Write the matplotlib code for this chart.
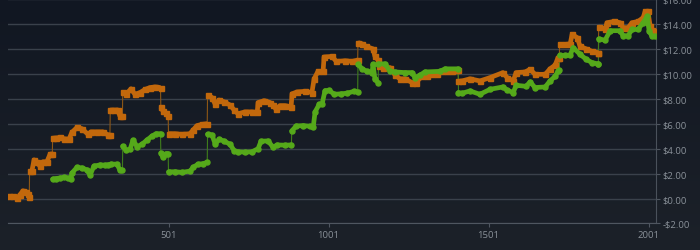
import numpy as np
import matplotlib.pyplot as plt

# values (x = run index, y = dollars)
orange_x = [3, 15, 28, 37, 46, 56, 62, 66, 67, 74, 81, 90, 99, 109, 121, 131, 138,
            139, 149, 162, 174, 190, 199, 215, 231, 249, 259, 278, 296, 312, 318,
            319, 331, 343, 349, 357, 358, 368, 384, 396, 412, 428, 443, 459, 476,
            477, 484, 493, 500, 501, 521, 543, 568, 578, 590, 606, 622, 623, 637,
            647, 659, 675, 693, 706, 718, 740, 762, 778, 781, 800, 818, 828, 837,
            849, 865, 884, 887, 903, 928, 949, 956, 968, 984, 987, 1012, 1025, 1053,
            1075, 1092, 1093, 1106, 1118, 1140, 1146, 1156, 1159, 1171, 1193, 1209,
            1224, 1240, 1262, 1274, 1293, 1309, 1324, 1340, 1356, 1371, 1387, 1399,
            1406, 1407, 1418, 1443, 1474, 1506, 1546, 1559, 1578, 1587, 1615, 1631,
            1646, 1678, 1693, 1709, 1718, 1722, 1723, 1740, 1756, 1762, 1778, 1787,
            1806, 1824, 1843, 1844, 1845, 1865, 1871, 1893, 1912, 1921, 1937, 1949,
            1968, 1984, 1990, 1999, 2006, 2012, 2021]
orange_y = [0.18, 0.18, 0.05, 0.3, 0.62, 0.55, 0.35, 0.1, 2.17, 2.2, 3.1, 2.95, 2.6,
            2.95, 2.95, 3.56, 3.56, 4.84, 4.85, 4.9, 4.8, 4.75, 5.3, 5.7, 5.6, 5.16,
            5.35, 5.35, 5.35, 5.1, 5.1, 7.1, 7.1, 7.1, 6.62, 6.62, 8.55, 8.36, 8.8,
            8.36, 8.5, 8.75, 8.9, 8.95, 8.9, 7.35, 7.0, 6.85, 6.6, 5.2, 5.2, 5.15,
            5.2, 5.5, 5.85, 5.95, 6.0, 8.3, 8.1, 7.56, 7.9, 7.75, 7.5, 7.1, 6.8,
            6.95, 6.95, 6.9, 7.7, 7.85, 7.7, 7.5, 7.15, 7.45, 7.45, 7.35, 8.4, 8.55,
            8.6, 8.5, 9.6, 10.2, 10.2, 11.35, 11.4, 11.0, 11.05, 11.0, 11.1, 12.5,
            12.4, 12.2, 12.0, 11.4, 11.1, 10.6, 10.5, 10.5, 9.9, 9.6, 9.6, 9.3, 9.3,
            9.8, 9.85, 10.0, 10.0, 10.2, 10.2, 10.2, 10.3, 10.3, 9.4, 9.43, 9.6, 9.43,
            9.7, 10.1, 9.7, 9.43, 10.1, 10.15, 10.36, 9.96, 9.96, 10.4, 10.7, 11.3,
            11.3, 12.36, 12.36, 12.4, 13.16, 12.9, 12.2, 12.0, 11.8, 11.7, 11.7,
            13.75, 13.6, 14.1, 14.2, 14.1, 13.7, 13.7, 14.1, 14.2, 14.5, 15.0, 15.0,
            13.8, 13.5, 13.4]

green_x = [139, 149, 162, 174, 187, 196, 199, 215, 231, 246, 256, 268, 287, 303, 312,
           321, 340, 349, 357, 358, 368, 381, 390, 403, 418, 434, 449, 462, 476, 477,
           484, 493, 500, 501, 521, 543, 568, 578, 593, 609, 622, 623, 637, 647, 659,
           675, 693, 706, 718, 740, 762, 781, 790, 812, 828, 840, 865, 885, 886, 900,
           922, 943, 953, 959, 972, 981, 990, 1003, 1019, 1041, 1059, 1081, 1092,
           1093, 1106, 1121, 1137, 1140, 1146, 1156, 1157, 1178, 1193, 1209, 1240,
           1262, 1271, 1287, 1302, 1349, 1365, 1406, 1407, 1418, 1443, 1474, 1506,
           1546, 1559, 1578, 1587, 1618, 1631, 1646, 1678, 1693, 1709, 1718, 1722,
           1723, 1740, 1756, 1765, 1787, 1806, 1824, 1843, 1844, 1845, 1865, 1881,
           1912, 1921, 1937, 1949, 1968, 1984, 1996, 2003, 2012, 2021]
green_y = [1.56, 1.6, 1.65, 1.7, 1.65, 1.55, 2.04, 2.5, 2.45, 2.3, 1.88, 2.6, 2.7,
           2.68, 2.7, 2.76, 2.76, 2.3, 2.28, 4.2, 3.88, 3.95, 4.68, 4.17, 4.35, 4.7,
           5.0, 5.2, 5.2, 3.64, 3.3, 3.6, 3.6, 2.14, 2.15, 2.1, 2.2, 2.5, 2.75, 2.8,
           2.9, 5.16, 5.1, 4.36, 4.76, 4.6, 4.36, 3.85, 3.75, 3.72, 3.75, 4.0, 4.6,
           4.62, 4.1, 4.3, 4.28, 4.3, 5.42, 5.82, 5.85, 5.8, 5.7, 6.95, 7.56, 7.6,
           8.65, 8.67, 8.36, 8.4, 8.45, 8.6, 8.55, 10.76, 10.4, 10.2, 10.1, 10.76,
           9.56, 9.3, 10.8, 10.8, 10.2, 10.15, 10.1, 10.1, 9.7, 9.9, 10.15, 10.2,
           10.4, 10.4, 8.5, 8.44, 8.63, 8.36, 8.76, 8.95, 8.7, 8.5, 9.08, 9.0, 9.35,
           8.9, 8.95, 9.43, 9.8, 10.2, 10.3, 11.48, 11.48, 11.5, 12.1, 11.56, 11.16,
           10.9, 10.8, 10.8, 12.8, 12.7, 13.46, 13.46, 13.06, 13.06, 13.56, 13.56,
           14.1, 14.6, 13.4, 13.0, 13.0]

y_ticks = [-2, 0, 2, 4, 6, 8, 10, 12, 14, 16]
x_ticks = [501, 1001, 1501, 2001]

plt.rcParams['font.family'] = ['Open Sans', 'DejaVu Sans']

fig = plt.figure(figsize=(7, 2.51), dpi=100)

# dark gradient background
bg = fig.add_axes([0, 0, 1, 1])
grad = np.linspace(0, 1, 256).reshape(-1, 1)
bg.imshow(grad, aspect='auto', extent=[0, 1, 0, 1],
          cmap=plt.matplotlib.colors.LinearSegmentedColormap.from_list('bg', ['#1c2129', '#111722']),
          origin='lower')
bg.axis('off')

ax = fig.add_axes([0.0121, 0.1056, 0.925, 0.8944])
ax.patch.set_alpha(0)


def draw(xs, ys, color, jump_color, marker, cap):
    xs = np.array(xs)
    ys = np.array(ys)
    # a jump is two neighbouring runs with very different values
    breaks = np.where(np.diff(xs) <= 1)[0] + 1
    for seg in np.split(np.arange(len(xs)), breaks):
        ax.plot(xs[seg], ys[seg], color=color, lw=3.4, solid_capstyle=cap,
                solid_joinstyle='round', marker=marker, ms=3.6, zorder=3)
    for b in breaks:
        ax.plot(xs[b - 1:b + 1], ys[b - 1:b + 1], color=jump_color, lw=0.8, zorder=2)


draw(orange_x, orange_y, '#c2680c', '#8d5716', 's', 'butt')
draw(green_x, green_y, '#55a91a', '#3f7d1c', 'o', 'round')

ax.set_xlim(1, 2024)
ax.set_ylim(-2, 16)
ax.set_yticks(y_ticks)
ax.set_yticklabels([('-$%.2f' % -v) if v < 0 else ('$%.2f' % v) for v in y_ticks])
ax.set_xticks(x_ticks)
ax.set_xticklabels([str(v) for v in x_ticks])
ax.yaxis.tick_right()
ax.grid(axis='y', color='#3a414b', lw=1)
ax.set_axisbelow(True)

for side in ['top', 'left']:
    ax.spines[side].set_visible(False)
ax.spines['right'].set_color('#4a515b')
ax.spines['bottom'].set_color('#4f5660')
ax.tick_params(axis='both', colors='#4f5660', labelcolor='#8a9199', labelsize=6.8,
               length=3, width=0.8, pad=2)

plt.savefig('out.png', dpi=100, facecolor=fig.get_facecolor())
